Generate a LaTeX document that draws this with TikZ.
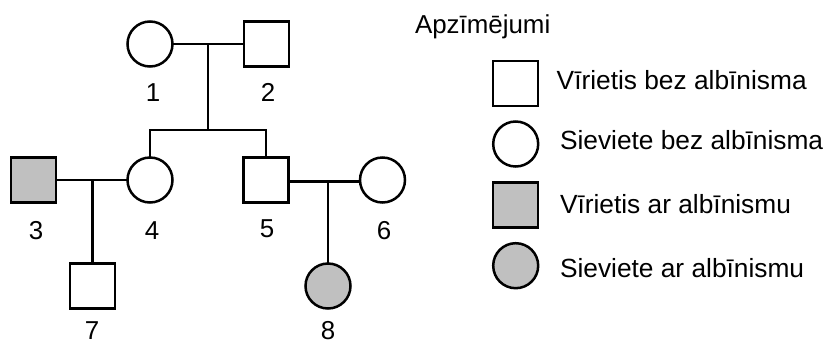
\documentclass[tikz,border=0pt]{standalone}
\usepackage{fontspec}
\setmainfont{Liberation Sans}
\usepackage{tikz}

\begin{document}
\begin{tikzpicture}[x=1bp,y=-1bp, line width=2.5bp,
  every node/.style={outer sep=0pt},
  male/.style={draw, rectangle, minimum size=45bp, inner sep=0pt},
  female/.style={draw, circle, minimum size=45bp, inner sep=0pt},
  ill/.style={fill=albgray},
  num/.style={inner sep=0pt, anchor=base, font=\fontsize{26}{30}\selectfont},
  txt/.style={inner sep=0pt, anchor=base west, font=\fontsize{26.4}{30}\selectfont}]
\definecolor{albgray}{HTML}{C0C0C0}
\useasboundingbox (0,0) rectangle (829,346);

\node[female] (i1) at (150,44) {};
\node[male] (i2) at (266.5,44) {};
\node[male, ill] (i3) at (33.5,180) {};
\node[female] (i4) at (150,180) {};
\node[male] (i5) at (266,180) {};
\node[female] (i6) at (382.5,180) {};
\node[male] (i7) at (92.5,286) {};
\node[female, ill] (i8) at (328,286) {};

\node[num] (n1) at (153,101.5) {1};
\node[num] (n2) at (268,101.5) {2};
\node[num] (n3) at (36,239) {3};
\node[num] (n4) at (152,239) {4};
\node[num] (n5) at (267,237) {5};
\node[num] (n6) at (384,239) {6};
\node[num] (n7) at (92,339) {7};
\node[num] (n8) at (328,339) {8};

\coordinate (m12) at (208,44);
\coordinate (s45) at (208,130);
\coordinate (m34) at (92.5,180);
\coordinate (m56) at (328,181.5);

\draw (i1) -- (i2);
\draw (m12) -- (s45);
\draw (i4.north) |- (s45) -| (i5.north);
\draw (i3) -- (i4);
\draw (m34) -- (i7.north);
\draw (i5.east |- m56) -- (i6.west |- m56);
\draw (m56) -- (i8.north);

% apzimejumi
\node[txt, font=\fontsize{26}{30}\selectfont] (leg) at (415,33.3) {Apzīmējumi};
\node[male] (k1) at (515.7,83.3) {};
\node[female] (k2) at (515.7,144) {};
\node[male, ill] (k3) at (515.7,205) {};
\node[female, ill] (k4) at (515.7,265.7) {};
\node[txt] (t1) at (556.7,89.3) {Vīrietis bez albīnisma};
\node[txt] (t2) at (560,149.3) {Sieviete bez albīnisma};
\node[txt] (t3) at (560,213) {Vīrietis ar albīnismu};
\node[txt] (t4) at (560,277.7) {Sieviete ar albīnismu};
\end{tikzpicture}
\end{document}
